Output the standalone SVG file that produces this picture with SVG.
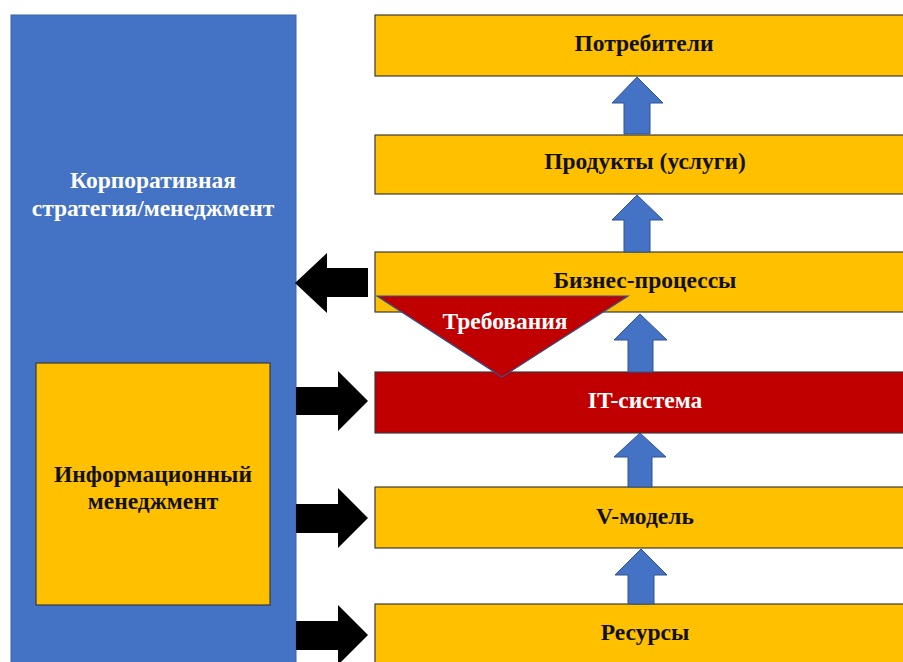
<svg xmlns="http://www.w3.org/2000/svg" width="903" height="662" viewBox="0 0 903 662">
<style>
.box{fill:#FFC000;stroke:#3a3a3a;stroke-width:1.2}
.red{fill:#C00000;stroke:#3a3a3a;stroke-width:1.2}
.t{font-family:"Liberation Serif","Times New Roman",serif;font-weight:bold;font-size:23.5px;text-anchor:middle}
.dark{fill:#111}
.white{fill:#fff}
.up{fill:#4472C4;stroke:#2F528F;stroke-width:1}
.blk{fill:#000}
</style>
<rect width="903" height="662" fill="#fff"/>
<g id="corporate">
<rect x="11" y="15" width="285" height="660" fill="#4472C4" stroke="#3b63a8" stroke-width="1"/>
<text class="t white" x="153" y="188">Корпоративная</text>
<text class="t white" x="153" y="216">стратегия/менеджмент</text>
</g>
<g id="info-management">
<rect class="box" x="36" y="363" width="234" height="242"/>
<text class="t dark" x="153" y="482">Информационный</text>
<text class="t dark" x="153" y="509">менеджмент</text>
</g>
<g id="consumers">
<rect class="box" x="375" y="15" width="540" height="61"/>
<text class="t dark" x="644" y="51">Потребители</text>
</g>
<g id="products">
<rect class="box" x="375" y="135" width="540" height="59"/>
<text class="t dark" x="645" y="169">Продукты (услуги)</text>
</g>
<g id="business">
<rect class="box" x="375" y="252" width="540" height="60"/>
<text class="t dark" x="645" y="288">Бизнес-процессы</text>
</g>
<g id="it-system">
<rect class="red" x="375" y="372" width="540" height="61"/>
<text class="t white" x="645" y="408">IT-система</text>
</g>
<g id="v-model">
<rect class="box" x="375" y="487" width="540" height="61"/>
<text class="t dark" x="645" y="524">V-модель</text>
</g>
<g id="resources">
<rect class="box" x="375" y="604" width="540" height="70"/>
<text class="t dark" x="645" y="640">Ресурсы</text>
</g>
<g id="requirements">
<polygon points="377,296 628,296 502,377" fill="#C00000" stroke="#2F528F" stroke-width="1.2"/>
<text class="t white" x="505" y="329">Требования</text>
</g>
<g id="connectors">
<polygon class="up" points="637,77 663,103 650,103 650,134 624,134 624,103 612,103"/>
<polygon class="up" points="637,195 663,220 650,220 650,252 624,252 624,220 612,220"/>
<polygon class="up" points="640,314 667,340 653,340 653,372 628,372 628,340 614,340"/>
<polygon class="up" points="640,433 666,457 652,457 652,487 628,487 628,457 614,457"/>
<polygon class="up" points="641,549 667,575 654,575 654,604 628,604 628,575 615,575"/>
<polygon class="blk" points="295,283 327,253 327,268 368,268 368,297 327,297 327,313"/>
<polygon class="blk" points="368,401 338,371 338,387 296,387 296,415 338,415 338,431"/>
<polygon class="blk" points="368,518 338,488 338,504 296,504 296,533 338,533 338,548"/>
<polygon class="blk" points="368,635 338,605 338,621 296,621 296,650 338,650 338,665"/>
</g>
</svg>
